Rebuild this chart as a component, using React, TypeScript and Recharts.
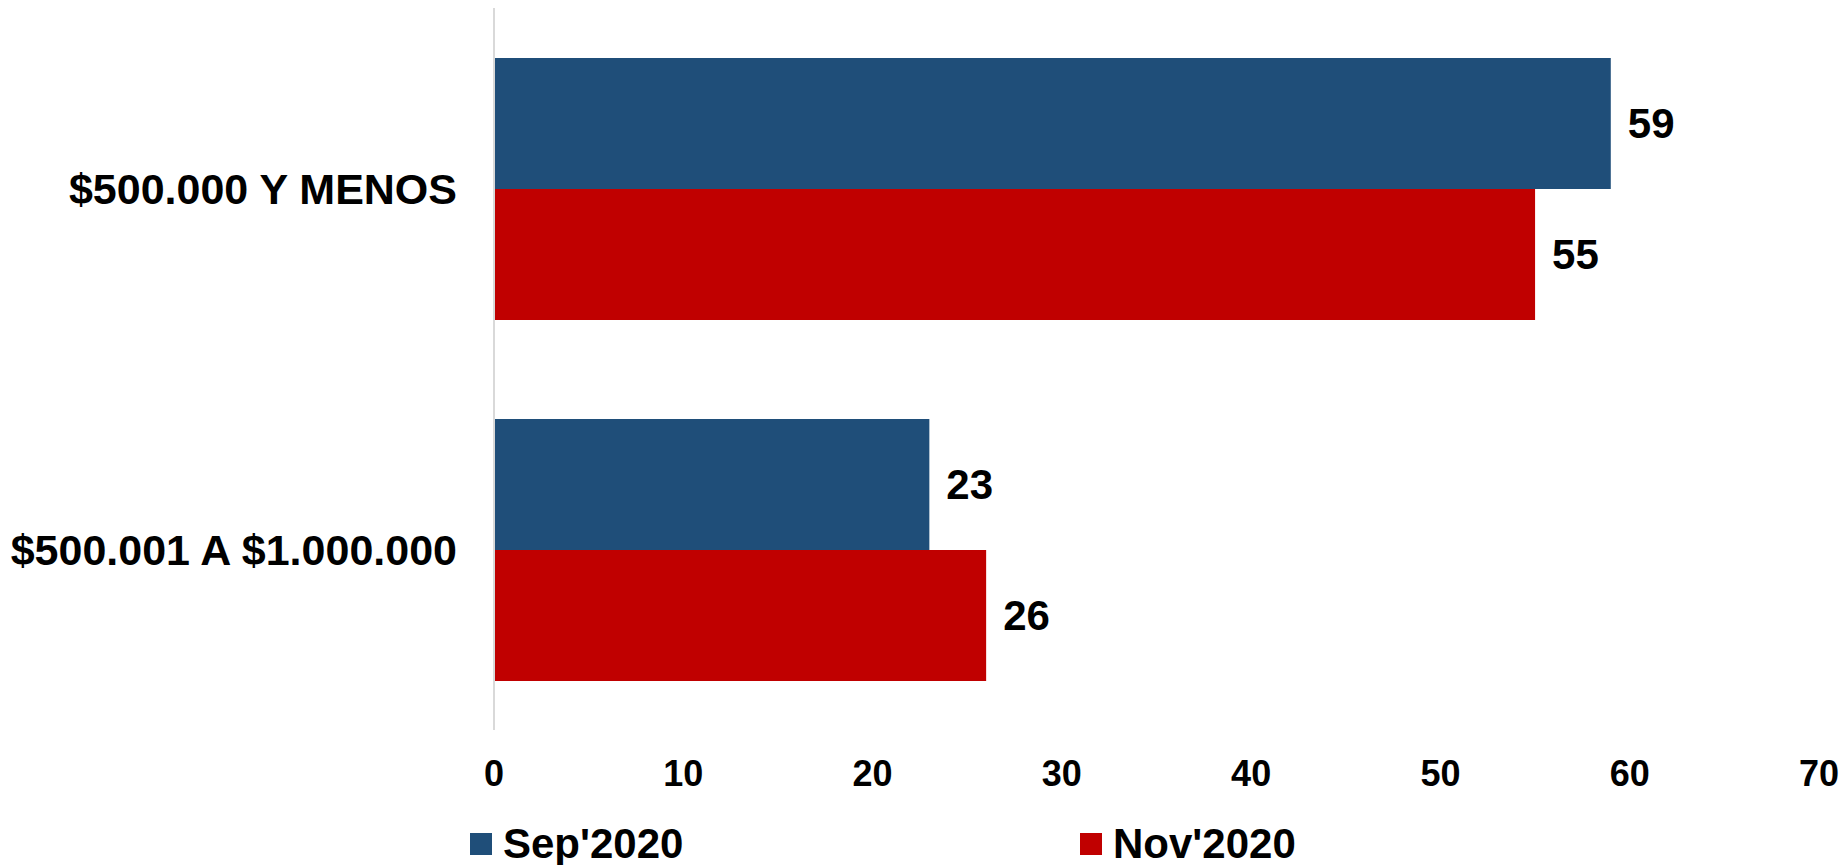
import React from "react";
import { BarChart, Bar, XAxis, YAxis, Legend, LabelList } from "recharts";

const categories = ["$500.000 Y MENOS", "$500.001 A $1.000.000"];
const sep2020 = [59, 23];
const nov2020 = [55, 26];
const xTicks = [0, 10, 20, 30, 40, 50, 60, 70];
const seriesNames = ["Sep'2020", "Nov'2020"];
const seriesColors = ["#1F4E79", "#C00000"];

const data = categories.map((c, i) => ({ name: c, sep: sep2020[i], nov: nov2020[i] }));

const FONT = "'Liberation Sans', Arial, sans-serif";

const LegendContent = () => (
  <div style={{ height: 60, position: "relative", fontFamily: FONT }}>
    <div style={{ display: "flex", marginTop: 28, height: 22, paddingLeft: 470 }}>
      {seriesNames.map((n, i) => (
        <div key={n} style={{ display: "flex", alignItems: "center", width: 610, height: 22 }}>
          <div style={{ width: 22, height: 22, background: seriesColors[i], marginRight: 11 }} />
          <span style={{ fontSize: 42, fontWeight: 700, lineHeight: "22px", color: "#000", whiteSpace: "nowrap" }}>{n}</span>
        </div>
      ))}
    </div>
  </div>
);

export default function App() {
  return (
    <div style={{ position: "absolute", left: 0, top: 0, width: 1846, height: 865, background: "#fff" }}>
      <BarChart
        width={1846}
        height={865}
        data={data}
        layout="vertical"
        margin={{ top: 8, right: 27, left: 0, bottom: 0 }}
        barGap={0}
      >
        <XAxis
          type="number"
          domain={[0, 70]}
          ticks={xTicks}
          axisLine={false}
          tickLine={false}
          tickSize={0}
          tickMargin={30}
          height={75}
          tick={{ fontSize: 36, fontWeight: 700, fill: "#000", fontFamily: FONT }}
        />
        <YAxis
          type="category"
          dataKey="name"
          width={494}
          axisLine={{ stroke: "#D9D9D9", strokeWidth: 2 }}
          tickLine={false}
          tickSize={0}
          tickMargin={37}
          tick={{ fontSize: 43, fontWeight: 700, fill: "#000", fontFamily: FONT }}
        />
        <Legend
          verticalAlign="bottom"
          content={<LegendContent />}
          wrapperStyle={{ left: 0, bottom: 0, width: 1846, height: 60 }}
        />
        <Bar dataKey="sep" name={seriesNames[0]} fill={seriesColors[0]} barSize={131} isAnimationActive={false}>
          <LabelList dataKey="sep" position="right" offset={17} style={{ fontSize: 42, fontWeight: 700, fill: "#000", fontFamily: FONT }} />
        </Bar>
        <Bar dataKey="nov" name={seriesNames[1]} fill={seriesColors[1]} barSize={131} isAnimationActive={false}>
          <LabelList dataKey="nov" position="right" offset={17} style={{ fontSize: 42, fontWeight: 700, fill: "#000", fontFamily: FONT }} />
        </Bar>
      </BarChart>
    </div>
  );
}
